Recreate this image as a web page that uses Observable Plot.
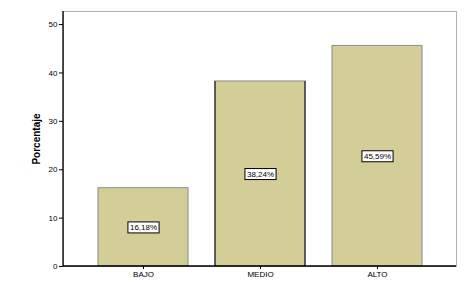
<!DOCTYPE html>
<html><head><meta charset="utf-8">
<script src="https://cdn.jsdelivr.net/npm/d3@7"></script>
<script src="https://cdn.jsdelivr.net/npm/@observablehq/plot@0.6"></script>
<style>
body{margin:0;background:#fff;}
#c svg{font-family:"Liberation Sans",Arial,sans-serif;}
</style></head>
<body><div id="c"></div>
<script>
const categories = ["BAJO","MEDIO","ALTO"];
const values = [16.18, 38.24, 45.59];
const labels = ["16,18%","38,24%","45,59%"];
const yTicks = [0,10,20,30,40,50];

const data = categories.map((c,i)=>({cat:c, v:values[i], lab:labels[i]}));

function axisLines(index, scales, values, dim) {
  const ns = "http://www.w3.org/2000/svg";
  const g = document.createElementNS(ns, "g");
  const l = dim.marginLeft, b = dim.height - dim.marginBottom, t = dim.marginTop, r = dim.width - dim.marginRight;
  const p = document.createElementNS(ns, "path");
  p.setAttribute("d", `M${l},${t}V${b}H${r}`);
  p.setAttribute("fill", "none"); p.setAttribute("stroke", "#000"); p.setAttribute("stroke-width", "1.3");
  g.appendChild(p);
  return g;
}

const plot = Plot.plot({
  width: 469, height: 284,
  marginLeft: 63, marginTop: 11, marginRight: 13, marginBottom: 18,
  style: {fontFamily: '"Liberation Sans",Arial,sans-serif', fontSize: "8px", color: "#000", background:"#fff"},
  x: {domain: categories, paddingInner: 0.234, paddingOuter: 0.29, label: null},
  y: {domain: [0, 52.7], label: null},
  marks: [
    Plot.frame({stroke: "#b0b0b0"}),
    Plot.barY(data, {x: "cat", y: "v", fill: "#d3ce97", stroke: "#8a8a8a", strokeWidth: 1}),
    Plot.barY(data.filter(d => d.cat === "MEDIO"), {x: "cat", y: "v", fill: "none", stroke: "#000", strokeWidth: 1}),
    Plot.axisY({ticks: yTicks, tickSize: 4, tickPadding: 2, fontSize: 8, label: null}),
    Plot.axisX({tickSize: 3, tickPadding: 2, fontSize: 8, label: null}),
    axisLines,
    Plot.text(["Porcentaje"], {frameAnchor: "left", textAnchor: "middle", dx: -27, rotate: -90, fontWeight: "bold", fontSize: 10}),
    Plot.text(data, {x: "cat", y: d => d.v/2, text: "lab", fontSize: 8})
  ]
});
document.getElementById("c").appendChild(plot);
// black side edges only on MEDIO bar (second bar mark)
const barGroups = plot.querySelectorAll('g[aria-label="bar"]');
if (barGroups.length > 1) {
  barGroups[barGroups.length - 1].querySelectorAll("rect").forEach(r => {
    const w = +r.getAttribute("width"), h = +r.getAttribute("height");
    r.setAttribute("stroke-dasharray", `0 ${w} ${h} ${w} ${h}`);
  });
}
// boxes behind value labels
plot.querySelectorAll("text").forEach(t => {
  if (!t.textContent.includes("%")) return;
  const b = t.getBBox();
  const tr = t.getAttribute("transform");
  const r = document.createElementNS("http://www.w3.org/2000/svg","rect");
  r.setAttribute("x", b.x - 2); r.setAttribute("y", b.y - 1);
  r.setAttribute("width", b.width + 4); r.setAttribute("height", b.height + 2);
  r.setAttribute("fill", "#fff"); r.setAttribute("stroke", "#000"); r.setAttribute("stroke-width", "1");
  if (tr) r.setAttribute("transform", tr);
  t.parentNode.insertBefore(r, t);
});
</script></body></html>
